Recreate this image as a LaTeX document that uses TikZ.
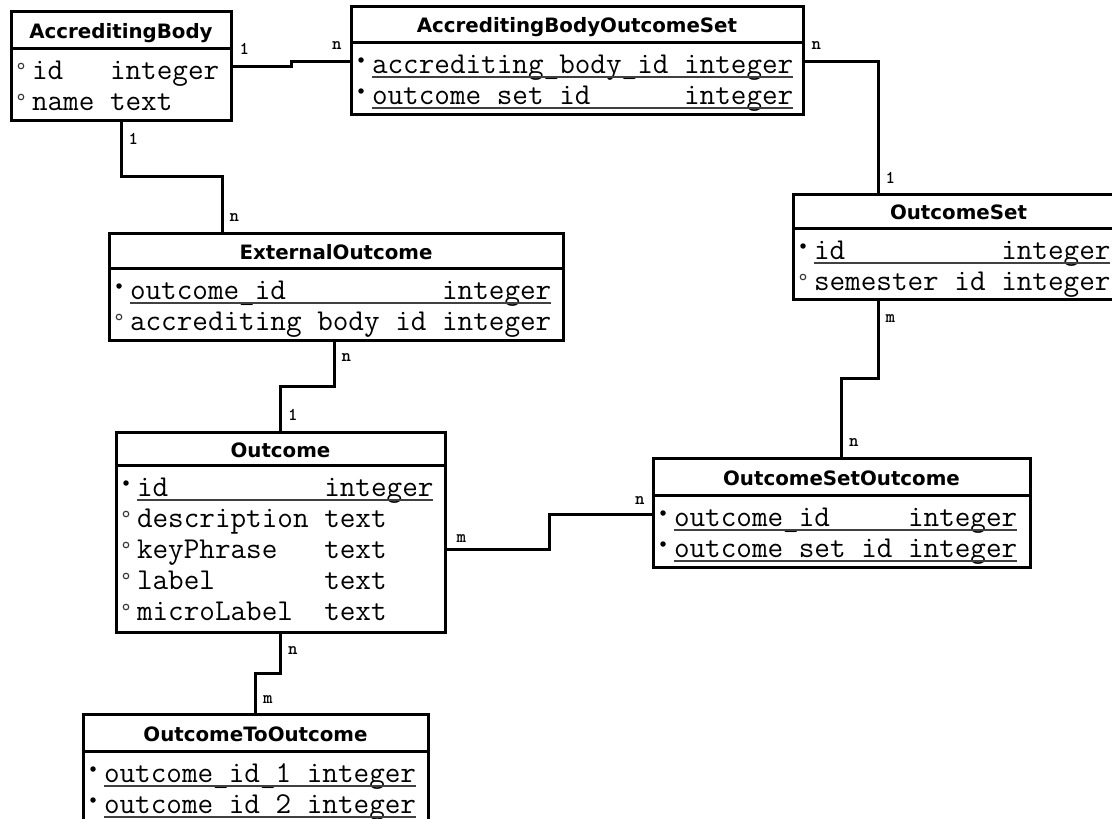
\documentclass[tikz,border=0pt]{standalone}
\usepackage{fontspec}
\newfontfamily\headfont{DejaVu Sans}
\usetikzlibrary{positioning, calc}
\tikzset{
  tabhead/.style={draw, line width=3pt, outer sep=0pt, inner sep=0pt, anchor=north west,
    text height=17pt, text depth=0pt, font=\headfont\bfseries\fontsize{19.8}{20}\selectfont},
  tabbody/.style={draw, line width=3pt, outer sep=0pt, inner sep=0pt, anchor=north west},
  field/.style={anchor=base west, inner sep=0pt, outer sep=0pt, font=\ttfamily\fontsize{30.3}{31}\selectfont},
  keyline/.style={line width=1.4pt, draw=black!75},
  keydot/.style={circle, fill=black, inner sep=0pt, minimum size=5.5pt},
  fkdot/.style={circle, draw=black!80, line width=1.1pt, inner sep=0pt, minimum size=5.5pt},
  keyfield/.style={field, append after command={
    ([yshift=-4pt]\tikzlastnode.base west) edge[keyline] ([yshift=-4pt]\tikzlastnode.base east)
    ([xshift=-11pt, yshift=13pt]\tikzlastnode.base west) node[keydot] {}}},
  fkfield/.style={field, append after command={
    ([xshift=-11pt, yshift=13pt]\tikzlastnode.base west) node[fkdot] {}}},
  link/.style={line width=3pt},
  zigh/.style={to path={-| ($(\tikztostart)!.5!(\tikztotarget)$) |- (\tikztotarget)}},
  zigv/.style={to path={|- ($(\tikztostart)!.5!(\tikztotarget)$) -| (\tikztotarget)}},
  card/.style={inner sep=0pt, font=\ttfamily\bfseries\fontsize{18}{18}\selectfont},
}

\begin{document}
\begin{tikzpicture}[x=1pt, y=-1pt]
  \path[fill=white, use as bounding box] (0,0) rectangle (1112,819);
  % Tables
  \node[tabhead, minimum width=220pt, minimum height=37pt] (ab) at (11,11) {AccreditingBody};
  \node[tabbody, minimum width=220pt, minimum height=72pt] (ab body) at (ab.south west) {};
  \node[fkfield] (ab-id) at ([shift={(21,31)}]ab body.north west) {id~~~integer};
  \node[fkfield] (ab-name) at ([yshift=-31pt]ab-id.base west) {name~text};

  \node[tabhead, minimum width=452pt, minimum height=36pt] (abos) at (351,6) {AccreditingBodyOutcomeSet};
  \node[tabbody, minimum width=452pt, minimum height=72pt] (abos body) at (abos.south west) {};
  \node[keyfield] (abos-ab) at ([shift={(21,31)}]abos body.north west) {accrediting\_body\_id~integer};
  \node[keyfield] (abos-os) at ([yshift=-31pt]abos-ab.base west) {outcome~set~id~~~~~~integer};

  \node[tabhead, minimum width=331pt, minimum height=34pt] (os) at (793,194) {OutcomeSet};
  \node[tabbody, minimum width=331pt, minimum height=71pt] (os body) at (os.south west) {};
  \node[keyfield] (os-id) at ([shift={(21,31)}]os body.north west) {id~~~~~~~~~~integer};
  \node[fkfield] (os-sem) at ([yshift=-31pt]os-id.base west) {semester~id~integer};

  \node[tabhead, minimum width=454pt, minimum height=35pt] (eo) at (109,233) {ExternalOutcome};
  \node[tabbody, minimum width=454pt, minimum height=72pt] (eo body) at (eo.south west) {};
  \node[keyfield] (eo-id) at ([shift={(21,31)}]eo body.north west) {outcome\_id~~~~~~~~~~integer};
  \node[fkfield] (eo-ab) at ([yshift=-31pt]eo-id.base west) {accrediting~body~id~integer};

  \node[tabhead, minimum width=329pt, minimum height=33pt] (oc) at (116,432) {Outcome};
  \node[tabbody, minimum width=329pt, minimum height=167pt] (oc body) at (oc.south west) {};
  \node[keyfield] (oc-id) at ([shift={(21,31)}]oc body.north west) {id~~~~~~~~~~integer};
  \node[fkfield] (oc-desc) at ([yshift=-31pt]oc-id.base west) {description~text};
  \node[fkfield] (oc-key) at ([yshift=-31pt]oc-desc.base west) {keyPhrase~~~text};
  \node[fkfield] (oc-label) at ([yshift=-31pt]oc-key.base west) {label~~~~~~~text};
  \node[fkfield] (oc-micro) at ([yshift=-31pt]oc-label.base west) {microLabel~~text};

  \node[tabhead, minimum width=377pt, minimum height=37pt] (oso) at (653,458) {OutcomeSetOutcome};
  \node[tabbody, minimum width=377pt, minimum height=72pt] (oso body) at (oso.south west) {};
  \node[keyfield] (oso-oc) at ([shift={(21,31)}]oso body.north west) {outcome\_id~~~~~integer};
  \node[keyfield] (oso-os) at ([yshift=-31pt]oso-oc.base west) {outcome~set~id~integer};

  \node[tabhead, minimum width=345pt, minimum height=37pt] (oto) at (83,714) {OutcomeToOutcome};
  \node[tabbody, minimum width=345pt, minimum height=72pt] (oto body) at (oto.south west) {};
  \node[keyfield] (oto-a) at ([shift={(21,31)}]oto body.north west) {outcome\_id\_1~integer};
  \node[keyfield] (oto-b) at ([yshift=-31pt]oto-a.base west) {outcome~id~2~integer};

  % Links
  \draw[link] ([yshift=-18pt]ab body.north east) node[card, above right=10pt and 7pt] {1}
    to[zigh] ([yshift=-19pt]abos body.north west) node[card, above left=10pt and 8pt] {n};
  \draw[link] ([yshift=-19pt]abos body.north east) node[card, above right=10pt and 7pt] {n}
    -| ([xshift=85pt]os.north west) node[card, above right=9pt and 6pt] {1};
  \draw[link] (ab body.south) node[card, below right=12pt and 6pt] {1}
    to[zigv] ([xshift=113pt]eo.north west) node[card, above right=10pt and 6pt] {n};
  \draw[link] ([xshift=-2pt]eo body.south) node[card, below right=12pt and 6pt] {n}
    to[zigv] (oc.north) node[card, above right=10pt and 6pt] {1};
  \draw[link] ([xshift=85pt]os body.south west) node[card, below right=14pt and 6pt] {m}
    to[zigv] (oso.north) node[card, above right=10pt and 6pt] {n};
  \draw[link] ([yshift=-1pt]oc body.east) node[card, above right=6pt and 10pt] {m}
    to[zigh] ([yshift=-19pt]oso body.north west) node[card, above left=8pt and 7pt] {n};
  \draw[link] (oc body.south) node[card, below right=13pt and 6pt] {n}
    to[zigv] (oto.north) node[card, above right=9pt and 6pt] {m};
\end{tikzpicture}
\end{document}
